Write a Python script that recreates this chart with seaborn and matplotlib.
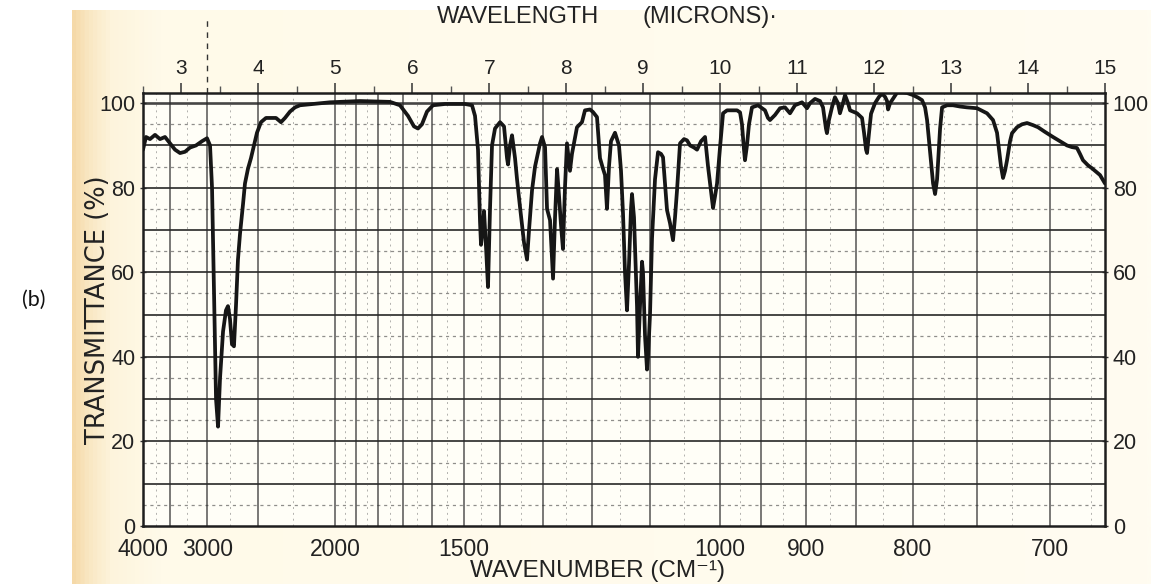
import numpy as np
import pandas as pd
import matplotlib
matplotlib.use("Agg")
import matplotlib.pyplot as plt
import seaborn as sns
from matplotlib.colors import LinearSegmentedColormap

# ---- infrared transmission spectrum (trace read along the wavelength axis) ----
wavelength_um = [
    2.500, 2.539, 2.591, 2.656, 2.721, 2.786, 2.851, 2.916, 2.981, 3.046,
    3.111, 3.189, 3.267, 3.332, 3.371, 3.397, 3.423, 3.449, 3.475, 3.501,
    3.540, 3.578, 3.604, 3.630, 3.656, 3.682, 3.708, 3.734, 3.760, 3.799,
    3.825, 3.864, 3.903, 3.942, 3.981, 4.033, 4.098, 4.163, 4.228, 4.293,
    4.345, 4.410, 4.475, 4.540, 4.709, 4.930, 5.320, 5.710, 5.839, 5.943,
    6.021, 6.073, 6.125, 6.190, 6.268, 6.424, 6.684, 6.775, 6.814, 6.853,
    6.879, 6.892, 6.918, 6.931, 6.957, 6.983, 7.009, 7.035, 7.074, 7.139,
    7.191, 7.230, 7.243, 7.269, 7.295, 7.334, 7.360, 7.399, 7.451, 7.490,
    7.516, 7.555, 7.594, 7.620, 7.659, 7.685, 7.724, 7.750, 7.789, 7.828,
    7.854, 7.880, 7.906, 7.932, 7.957, 7.983, 8.009, 8.048, 8.074, 8.139,
    8.204, 8.243, 8.308, 8.347, 8.399, 8.438, 8.477, 8.503, 8.529, 8.555,
    8.581, 8.633, 8.685, 8.711, 8.737, 8.763, 8.789, 8.815, 8.841, 8.854,
    8.880, 8.893, 8.919, 8.932, 8.958, 8.984, 8.997, 9.023, 9.049, 9.062,
    9.088, 9.114, 9.153, 9.192, 9.231, 9.257, 9.283, 9.309, 9.348, 9.387,
    9.413, 9.439, 9.478, 9.530, 9.569, 9.608, 9.660, 9.699, 9.751, 9.803,
    9.842, 9.881, 9.907, 9.933, 9.959, 9.998, 10.037, 10.089, 10.219, 10.258,
    10.283, 10.309, 10.322, 10.348, 10.374, 10.413, 10.491, 10.582, 10.621, 10.647,
    10.712, 10.777, 10.842, 10.907, 10.972, 11.063, 11.128, 11.167, 11.232, 11.297,
    11.336, 11.374, 11.387, 11.413, 11.452, 11.491, 11.530, 11.556, 11.595, 11.622,
    11.661, 11.687, 11.778, 11.843, 11.869, 11.895, 11.908, 11.934, 11.960, 12.012,
    12.064, 12.103, 12.142, 12.168, 12.181, 12.207, 12.233, 12.298, 12.376, 12.428,
    12.506, 12.571, 12.623, 12.662, 12.688, 12.714, 12.740, 12.766, 12.792, 12.818,
    12.831, 12.857, 12.883, 12.948, 13.025, 13.116, 13.207, 13.337, 13.467, 13.545,
    13.597, 13.623, 13.649, 13.675, 13.701, 13.727, 13.766, 13.792, 13.857, 13.922,
    13.987, 14.065, 14.130, 14.220, 14.324, 14.416, 14.506, 14.571, 14.636, 14.675,
    14.714, 14.779, 14.831, 14.883, 14.935, 15.000,
]
transmittance_pct = [
    89.0, 92.0, 91.5, 92.5, 91.5, 92.0, 90.5, 89.0, 88.2, 88.5,
    89.5, 90.0, 91.0, 91.7, 90.0, 80.0, 55.0, 30.0, 23.5, 35.0,
    46.0, 51.0, 52.0, 49.0, 43.0, 42.5, 52.0, 63.0, 69.0, 76.0,
    81.0, 84.5, 87.0, 90.0, 93.0, 95.5, 96.5, 96.5, 96.5, 95.5,
    96.5, 98.0, 99.0, 99.5, 99.8, 100.2, 100.5, 100.3, 99.5, 97.0,
    94.5, 94.0, 95.0, 98.0, 99.5, 99.8, 99.8, 99.5, 97.0, 89.0,
    72.0, 66.5, 71.0, 74.5, 66.0, 56.5, 75.0, 90.0, 94.0, 95.5,
    94.5, 87.0, 85.5, 90.0, 92.4, 87.0, 82.0, 75.4, 67.0, 63.0,
    70.0, 79.4, 85.0, 87.2, 90.5, 92.0, 89.6, 75.0, 72.3, 58.5,
    73.0, 84.4, 78.0, 71.0, 65.5, 80.0, 90.5, 84.0, 88.0, 94.3,
    95.5, 98.3, 98.5, 97.9, 96.7, 87.0, 84.5, 83.0, 75.0, 85.0,
    91.0, 93.0, 90.0, 84.0, 74.0, 60.0, 51.0, 62.0, 75.0, 78.5,
    73.0, 66.0, 52.0, 40.0, 52.0, 62.5, 60.0, 45.0, 37.0, 40.0,
    50.0, 68.0, 82.0, 88.4, 88.0, 87.2, 81.0, 74.7, 71.6, 67.6,
    73.0, 79.4, 90.5, 91.5, 91.2, 90.0, 89.5, 89.0, 91.0, 92.0,
    85.0, 79.0, 75.2, 78.0, 81.0, 89.6, 97.6, 98.3, 98.3, 97.8,
    95.0, 89.0, 86.5, 90.0, 95.0, 99.0, 99.5, 98.3, 96.5, 96.0,
    97.2, 98.8, 99.0, 97.6, 99.5, 100.2, 98.8, 100.0, 101.0, 100.5,
    99.0, 94.0, 92.9, 96.0, 99.0, 101.4, 100.0, 97.6, 100.0, 101.9,
    100.0, 98.3, 97.6, 96.5, 93.0, 89.0, 88.2, 93.0, 97.5, 100.0,
    101.5, 102.2, 101.5, 100.5, 98.5, 100.0, 100.7, 102.5, 102.5, 102.4,
    101.9, 101.3, 100.7, 99.0, 96.0, 91.0, 86.0, 81.0, 78.5, 82.0,
    86.0, 94.0, 99.0, 99.5, 99.5, 99.2, 99.0, 98.8, 97.6, 96.0,
    93.0, 89.0, 85.0, 82.3, 84.0, 86.5, 91.0, 92.9, 94.3, 95.0,
    95.3, 94.8, 94.3, 93.2, 92.0, 91.0, 90.0, 89.6, 89.4, 88.0,
    86.5, 85.3, 84.6, 83.8, 83.0, 81.0,
]

# ---- axis scales printed on the chart paper ----
micron_ticks = [3, 4, 5, 6, 7, 8, 9, 10, 11, 12, 13, 14, 15]
micron_half_ticks = [2.5, 3.5, 4.5, 5.5, 6.5, 7.5, 8.5, 9.5, 10.5, 11.5, 12.5, 13.5, 14.5]
wavenumber_ticks = [4000, 3000, 2000, 1500, 1000, 900, 800, 700]
wavenumber_rules = [3500, 3000, 2500, 2000, 1900, 1800, 1700, 1600, 1500, 1400,
                    1300, 1200, 1100, 1000, 950, 900, 850, 800, 750, 700]
wavenumber_fine_rules = [3750, 3250, 2750, 2250, 1950, 1850, 1750, 1650, 1550, 1450,
                         1350, 1250, 1150, 1050, 975, 925, 875, 825, 775, 725, 675]
transmittance_ticks = [0, 20, 40, 60, 80, 100]
transmittance_rules = [10, 20, 30, 40, 50, 60, 70, 80, 90, 100]
transmittance_fine_rules = [5, 15, 25, 35, 45, 55, 65, 75, 85, 95]

sns.set_theme(style="white")
plt.rcParams["font.family"] = ["Liberation Sans", "DejaVu Sans"]

W, H = 1151, 584
fig = plt.figure(figsize=(W / 100, H / 100), dpi=100)
fig.patch.set_facecolor("white")

# scanned paper tone behind the chart
paper = fig.add_axes([72 / W, 0, 1 - 72 / W, (H - 10) / H])
paper.axis("off")
paper_cmap = LinearSegmentedColormap.from_list(
    "paper", [(0.0, "#f5d9a8"), (0.012, "#f9e6c0"), (0.035, "#fdf4dc"),
              (0.08, "#fffae9"), (1.0, "#fffcf1")]
)
paper.imshow(np.linspace(0, 1, 1024)[None, :], aspect="auto", cmap=paper_cmap,
             extent=[0, 1, 0, 1])
paper.set_xlim(0, 1)
paper.set_ylim(0, 1)

ax = fig.add_axes([143 / W, 58 / H, 962 / W, 433 / H])
ax.set_facecolor("#fffef7")


def um_to_wn(x):
    x = np.asarray(x, dtype=float)
    with np.errstate(divide="ignore"):
        return 1e4 / x


wn_to_um = um_to_wn

# chart-paper rules
for v in transmittance_fine_rules:
    ax.axhline(v, color="#444444", lw=0.9, ls=(0, (2.5, 3)), alpha=0.6, zorder=1)
for v in transmittance_rules:
    ax.axhline(v, color="#262626", lw=1.4 if v != 100 else 1.9, alpha=0.85, zorder=1)
for wn in wavenumber_fine_rules:
    ax.axvline(1e4 / wn, color="#555555", lw=0.7, ls=(0, (2, 4)), alpha=0.45, zorder=1)
for wn in wavenumber_rules:
    ax.axvline(1e4 / wn, color="#2a2a2a", lw=1.1, alpha=0.8, zorder=1)
# the 3000 cm-1 rule runs up past the frame
ax.axvline(1e4 / 3000, ymin=1.0, ymax=(526 - 18) / 433, color="#333333", lw=1.0,
           ls=(0, (4, 4)), clip_on=False, zorder=1)

df = pd.DataFrame({"wavelength": wavelength_um, "transmittance": transmittance_pct})
sns.lineplot(data=df, x="wavelength", y="transmittance", ax=ax, color="#161616",
             lw=2.7, estimator=None, sort=False, zorder=3)

ax.set_xlim(2.5, 15)
ax.set_ylim(0, 102.4)
ax.set_xlabel("")
ax.set_ylabel("TRANSMITTANCE (%)", fontsize=18.5, color="#222222",
              family=["DejaVu Sans"])
ax.yaxis.set_label_coords((111 - 143) / 962, 0.5)

for side in ["left", "right", "top", "bottom"]:
    ax.spines[side].set_visible(True)
    ax.spines[side].set_color("#1e1e1e")
    ax.spines[side].set_linewidth(1.8)

# top: wavelength in microns
ax.xaxis.tick_top()
ax.set_xticks(micron_ticks)
ax.set_xticklabels([str(t) for t in micron_ticks])
ax.set_xticks(micron_half_ticks, minor=True)
ax.tick_params(axis="x", which="major", top=True, bottom=False, labeltop=True,
               labelbottom=False, direction="out", length=7.5, width=1.1,
               color="#333333", labelsize=15, pad=3.5, labelcolor="#222222")
ax.tick_params(axis="x", which="minor", top=True, bottom=False, direction="out",
               length=5, width=1.0, color="#555555")

# bottom: wavenumber
sec = ax.secondary_xaxis("bottom", functions=(um_to_wn, wn_to_um))
sec.set_xticks(wavenumber_ticks)
sec.set_xticklabels([str(t) for t in wavenumber_ticks])
sec.tick_params(axis="x", length=0, labelsize=16.5, pad=9, labelcolor="#222222")
sec.spines["bottom"].set_visible(False)

# transmittance on both sides
ax.set_yticks(transmittance_ticks)
ax.set_yticklabels([str(t) for t in transmittance_ticks])
ax.tick_params(axis="y", left=True, right=True, labelleft=True, labelright=True,
               direction="inout", length=5, width=1.0, color="#333333",
               labelsize=15.5, pad=3, labelcolor="#222222")

fig.text(437 / W, 1 - 17 / H, "WAVELENGTH", fontsize=17, ha="left", va="center",
         color="#222222")
fig.text(643 / W, 1 - 17 / H, "(MICRONS)·", fontsize=17, ha="left", va="center",
         color="#222222")
fig.text(470 / W, 1 - 571 / H, "WAVENUMBER (CM⁻¹)", fontsize=17.5,
         ha="left", va="center", color="#222222")
fig.text(22 / W, 1 - 300 / H, "(b)", fontsize=15.5, ha="left", va="center",
         color="#111111", family=["Lato", "DejaVu Sans"])

fig.savefig("out.png", dpi=100, facecolor=fig.get_facecolor())
